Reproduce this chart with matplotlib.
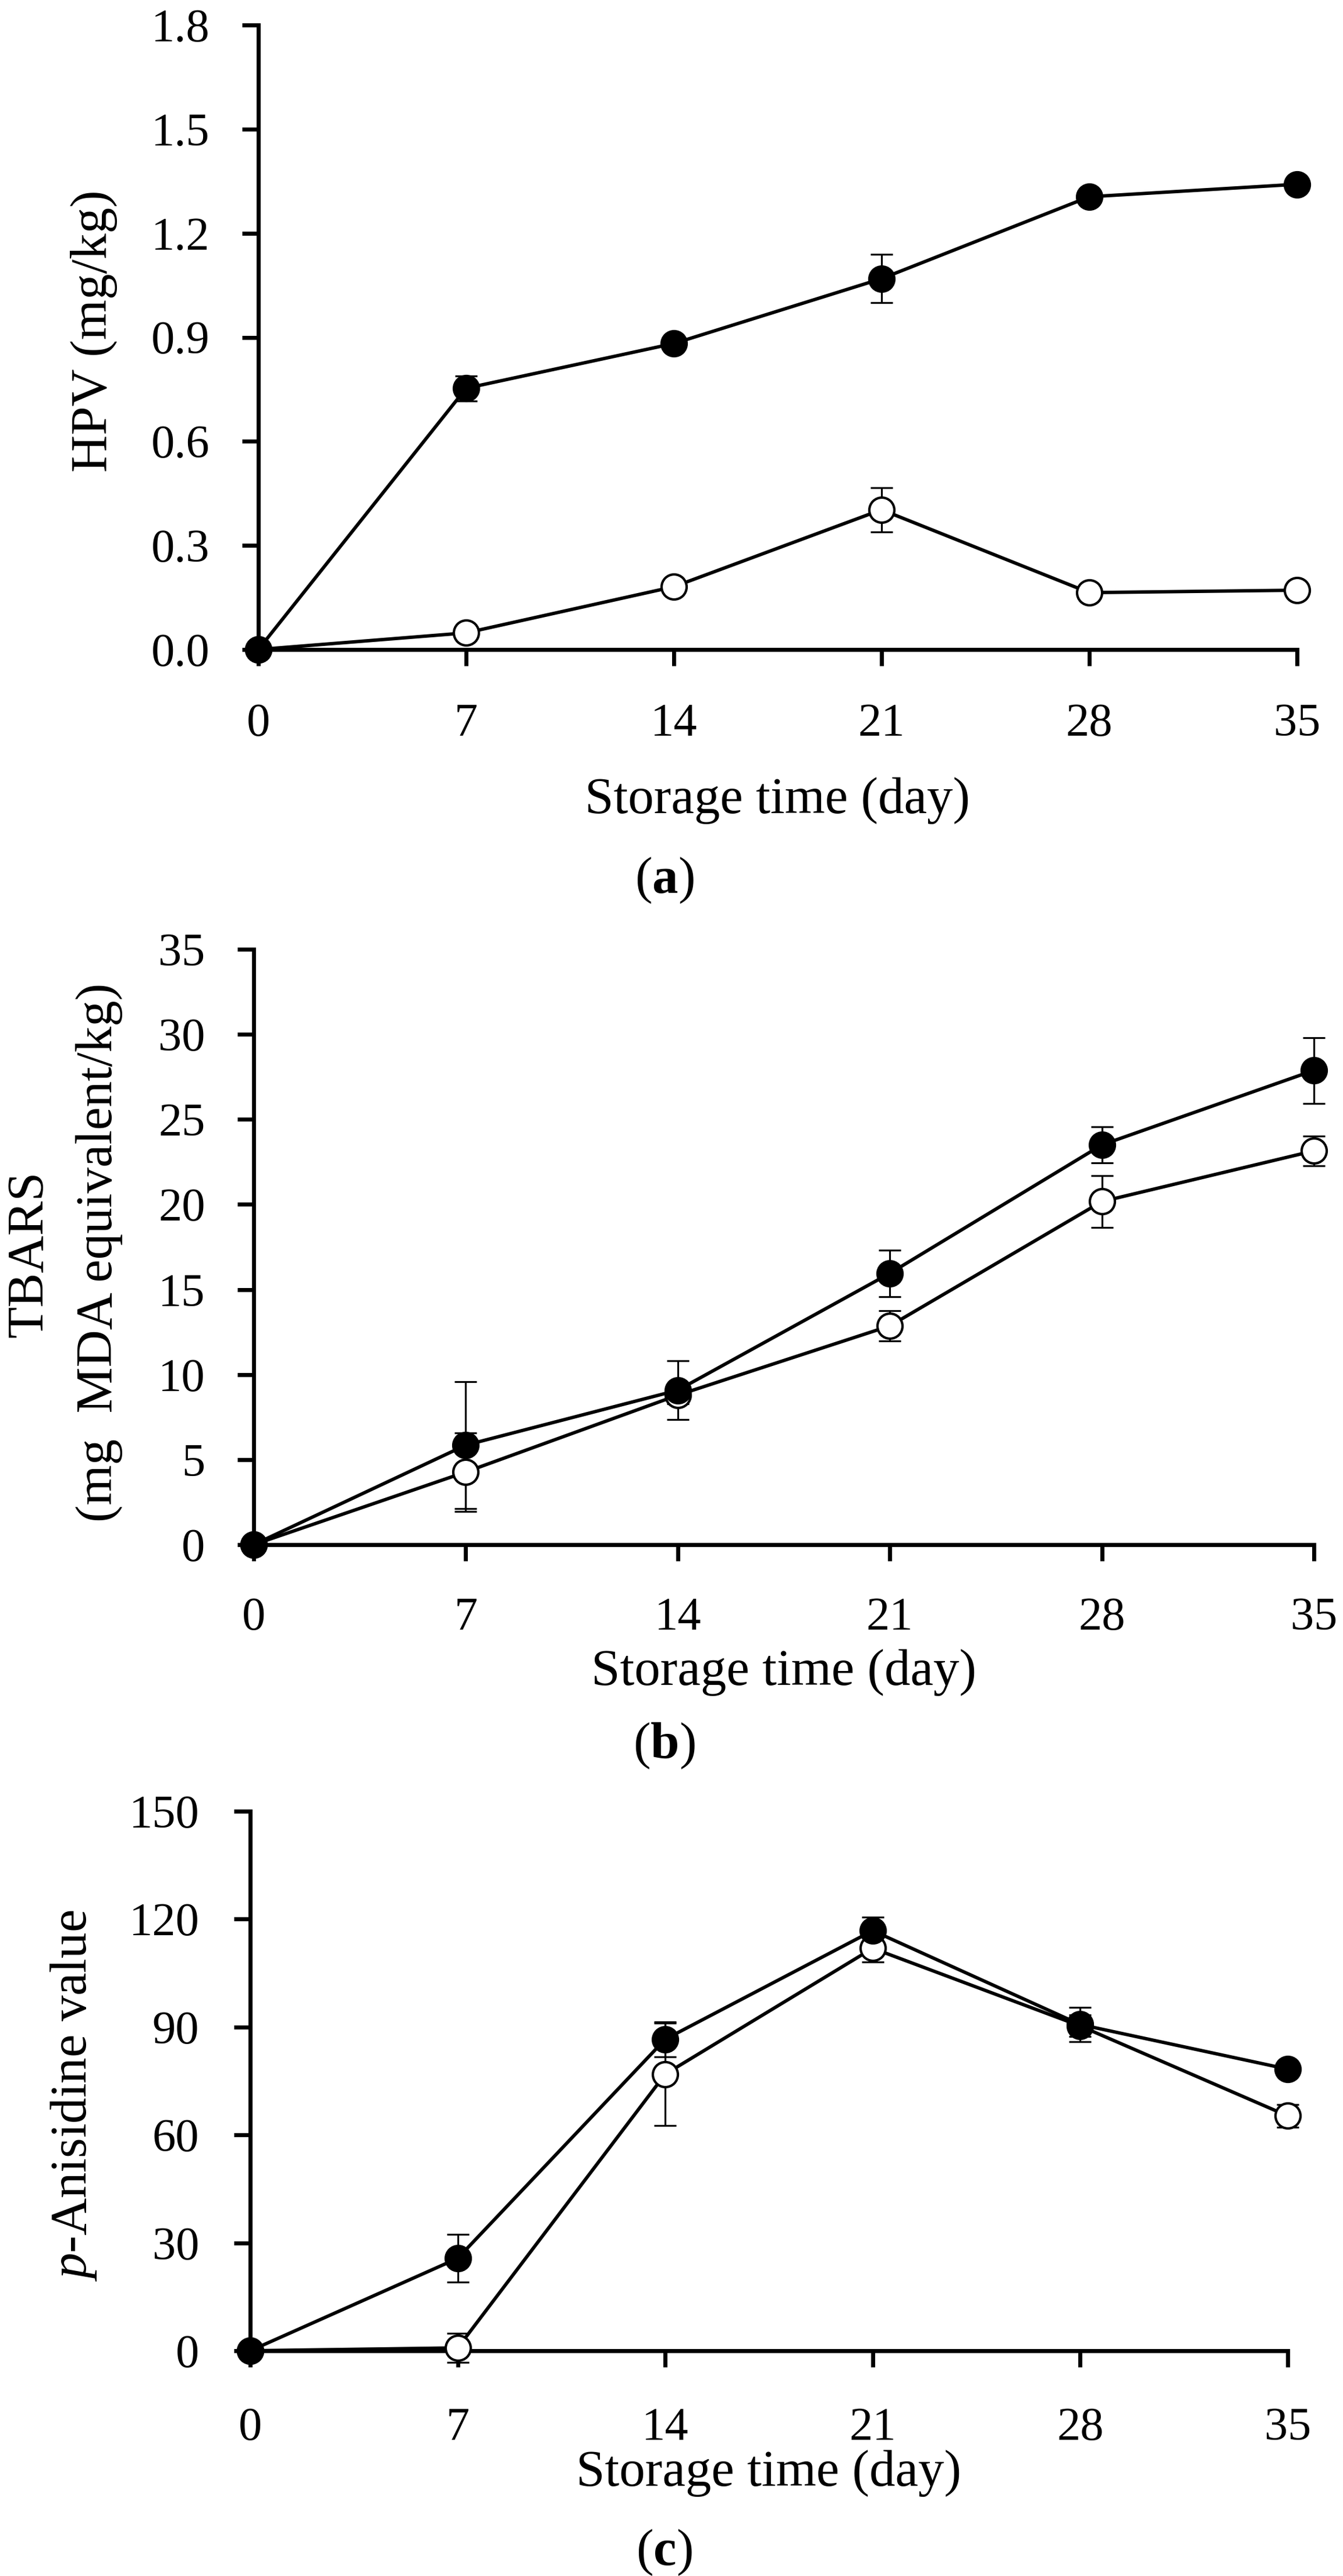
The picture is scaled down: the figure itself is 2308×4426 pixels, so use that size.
import matplotlib
matplotlib.use("Agg")
import matplotlib.pyplot as plt
from matplotlib.ticker import FormatStrFormatter

plt.rcParams['font.family'] = ['Liberation Serif', 'DejaVu Serif']
plt.rcParams['mathtext.fontset'] = 'custom'
plt.rcParams['mathtext.rm'] = 'Liberation Serif'
plt.rcParams['mathtext.it'] = 'Liberation Serif:italic'
plt.rcParams['mathtext.bf'] = 'Liberation Serif:bold'

# storage days
days = [0, 7, 14, 21, 28, 35]

# (a) HPV (mg/kg)
hpv_filled = [0, 0.753, 0.882, 1.069, 1.305, 1.341]
hpv_filled_err = [0, 0.036, 0.012, 0.070, 0.010, 0.010]
hpv_open = [0, 0.048, 0.181, 0.403, 0.164, 0.171]
hpv_open_err = [0, 0.008, 0.010, 0.064, 0.008, 0.008]

# (b) TBARS (mg MDA equivalent/kg)
tbars_filled = [0, 5.85, 9.08, 15.95, 23.5, 27.88]
tbars_filled_err = [0, 3.73, 1.72, 1.37, 1.07, 1.93]
tbars_open = [0, 4.27, 8.79, 12.86, 20.17, 23.15]
tbars_open_err = [0, 2.31, 0.5, 0.88, 1.53, 0.88]

# (c) p-Anisidine value
pav_filled = [0, 25.7, 86.6, 116.8, 90.7, 78.3]
pav_filled_err = [0, 6.6, 4.9, 3.8, 4.7, 1.5]
pav_open = [0, 0.8, 76.9, 111.9, 90.3, 65.3]
pav_open_err = [0, 4.1, 14.2, 3.8, 3.0, 3.2]

W, H = 2308, 4426
fig = plt.figure(figsize=(W / 100, H / 100), dpi=100)

TICK_FS = 58
LABEL_FS = 64


def px_axes(left, right, top, bottom):
    return fig.add_axes([left / W, 1 - bottom / H, (right - left) / W, (bottom - top) / H])


def fig_text(x, y, s, **kw):
    fig.text(x / W, 1 - y / H, s, ha='center', va='center', **kw)


def draw_panel(ax, filled, filled_err, opened, opened_err, ymax, ystep, xpad, ypad):
    ax.errorbar(days, filled, yerr=filled_err, fmt='none', ecolor='black',
                elinewidth=2.3, capsize=14, capthick=2.3, zorder=2, clip_on=False)
    ax.errorbar(days, opened, yerr=opened_err, fmt='none', ecolor='black',
                elinewidth=2.3, capsize=14, capthick=2.3, zorder=2, clip_on=False)
    ax.plot(days, opened, '-o', color='black', lw=4.2, ms=31, mfc='white',
            mec='black', mew=3, zorder=3, clip_on=False)
    ax.plot(days, filled, '-o', color='black', lw=4.2, ms=31, mfc='black',
            mec='black', mew=3, zorder=4, clip_on=False)
    ax.set_xlim(0, 35)
    ax.set_ylim(0, ymax)
    ax.set_xticks(days)
    ax.set_yticks([ystep * i for i in range(int(round(ymax / ystep)) + 1)])
    for side in ['top', 'right']:
        ax.spines[side].set_visible(False)
    for side in ['left', 'bottom']:
        ax.spines[side].set_linewidth(5)
    ax.tick_params(axis='both', direction='out', length=20, width=5,
                   labelsize=TICK_FS)
    ax.tick_params(axis='x', pad=46)
    ax.tick_params(axis='x', pad=xpad)
    ax.tick_params(axis='y', pad=ypad)
    ax.patch.set_alpha(0)


# panel (a)
ax1 = px_axes(444, 2229, 43, 1116)
draw_panel(ax1, hpv_filled, hpv_filled_err, hpv_open, hpv_open_err, 1.8, 0.3, 46, 40)
ax1.yaxis.set_major_formatter(FormatStrFormatter('%.1f'))
fig_text(161, 569, 'HPV (mg/kg)', rotation=90, fontsize=LABEL_FS)
fig_text(1336, 1375, 'Storage time (day)', fontsize=LABEL_FS)
fig_text(1142, 1513, r'(${\bf a}$)', fontsize=LABEL_FS)

# panel (b)
ax2 = px_axes(436, 2258, 1631, 2654)
draw_panel(ax2, tbars_filled, tbars_filled_err, tbars_open, tbars_open_err, 35, 5, 45, 40)
fig_text(51, 2155, 'TBARS', rotation=90, fontsize=LABEL_FS)
fig_text(171, 2152, '(mg  MDA equivalent/kg)', rotation=90, fontsize=LABEL_FS)
fig_text(1347, 2874, 'Storage time (day)', fontsize=LABEL_FS)
fig_text(1141, 3000, r'(${\bf b}$)', fontsize=LABEL_FS)

# panel (c)
ax3 = px_axes(430, 2213, 3112, 4039)
draw_panel(ax3, pav_filled, pav_filled_err, pav_open, pav_open_err, 150, 30, 50, 43)
fig_text(127, 3601, r'$\it{p}$-Anisidine value', rotation=90, fontsize=LABEL_FS)
fig_text(1321, 4249, 'Storage time (day)', fontsize=LABEL_FS)
fig_text(1141, 4386, r'(${\bf c}$)', fontsize=LABEL_FS)

fig.savefig('out.png', dpi=100, facecolor='white')
